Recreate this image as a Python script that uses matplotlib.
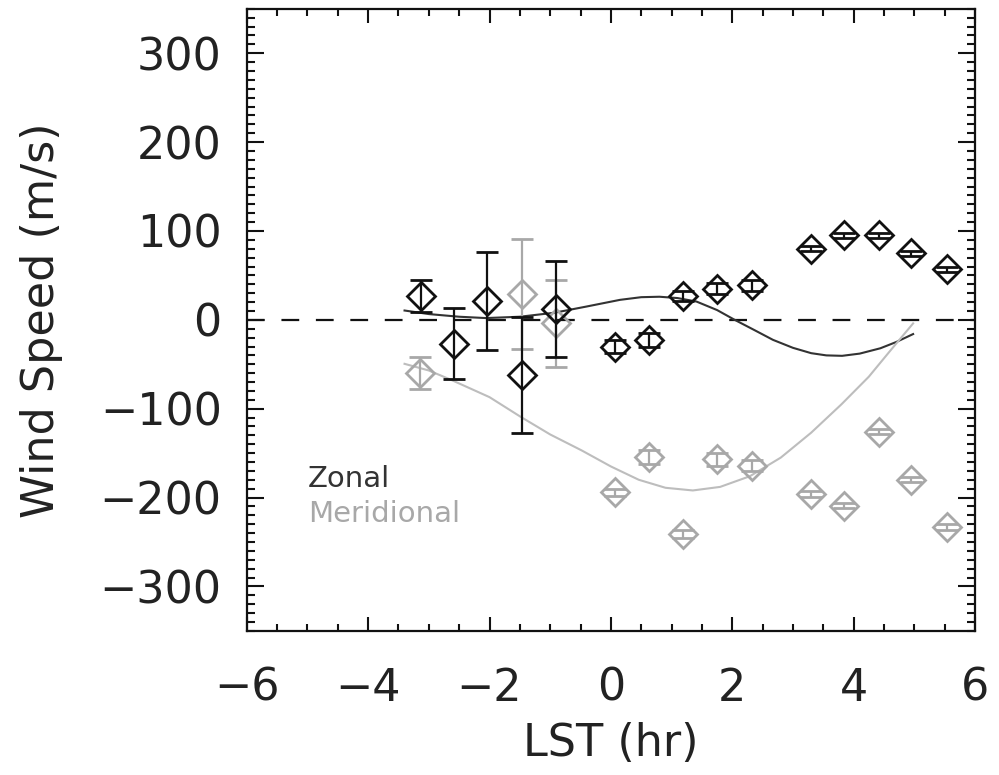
import matplotlib
matplotlib.use("Agg")
import matplotlib.pyplot as plt
from matplotlib.ticker import MultipleLocator, FuncFormatter

# ---- data ----
zonal_x = [-3.13, -2.59, -2.04, -1.47, -0.91, 0.07, 0.63, 1.18, 1.75, 2.32, 3.29, 3.84, 4.42, 4.95, 5.53]
zonal_y = [27, -27, 21, -62, 12, -30, -23, 27, 35, 39, 80, 95, 95, 75, 57]
zonal_err = [18, 40, 55, 65, 54, 7, 8, 6, 6, 6, 3, 3, 3, 3, 3]

merid_x = [-3.15, -1.47, -0.91, 0.07, 0.63, 1.18, 1.75, 2.32, 3.29, 3.84, 4.42, 4.95, 5.53]
merid_y = [-60, 29, -4, -194, -154, -241, -157, -164, -196, -209, -126, -180, -233]
merid_err = [18, 62, 49, 4, 8, 4, 7, 6, 3, 3, 3, 3, 3]

zfit_x = [-3.4, -3.0, -2.5, -2.06, -1.5, -0.93, -0.4, 0.15, 0.5, 0.8, 1.1, 1.41, 1.75, 2.04,
          2.35, 2.67, 3.0, 3.3, 3.55, 3.81, 4.1, 4.44, 4.7, 4.98]
zfit_y = [10.5, 6.5, 3.5, 2, 3.5, 8, 15, 22.5, 25.5, 26, 24.5, 20.6, 11, 0,
          -11, -22.5, -31.5, -37.5, -40, -40.5, -38, -32, -25, -16]

mfit_x = [-3.4, -3.0, -2.63, -2.0, -1.49, -1.0, -0.48, 0.0, 0.46, 0.9, 1.35, 1.8, 2.29,
          2.8, 3.3, 3.8, 4.25, 4.6, 4.98]
mfit_y = [-49.5, -57, -67.6, -87, -109, -129, -147, -165, -180, -189, -192, -188, -176,
          -155, -127, -95, -64, -35, -4]

xticks = [-6, -4, -2, 0, 2, 4, 6]
yticks = [-300, -200, -100, 0, 100, 200, 300]

BLACK = "#111111"
GRAY = "#a8a8a8"
LGRAY = "#bdbdbd"
TXT = "#222222"

plt.rcParams['font.family'] = ['DejaVu Sans']

fig = plt.figure(figsize=(9.99, 7.75), dpi=100)
ax = fig.add_axes([0.247, 0.186, 0.729, 0.8026])

ax.axhline(0, color=BLACK, lw=1.6, dashes=(8, 7.5), zorder=1)

ax.plot(zfit_x, zfit_y, color="#333333", lw=1.5, zorder=2)
ax.plot(mfit_x, mfit_y, color=LGRAY, lw=1.5, zorder=2)

ax.errorbar(merid_x, merid_y, yerr=merid_err, fmt='D', mfc='none', mec=GRAY, ecolor=GRAY,
            ms=14, mew=2.0, elinewidth=1.6, capsize=8, capthick=1.6, zorder=3)
ax.errorbar(zonal_x, zonal_y, yerr=zonal_err, fmt='D', mfc='none', mec=BLACK, ecolor=BLACK,
            ms=14, mew=2.0, elinewidth=1.6, capsize=8, capthick=1.6, zorder=4)

ax.set_xlim(-6, 6)
ax.set_ylim(-350, 350)
ax.set_xticks(xticks)
ax.set_yticks(yticks)
ax.xaxis.set_minor_locator(MultipleLocator(0.5))
ax.yaxis.set_minor_locator(MultipleLocator(10))

fmt = FuncFormatter(lambda v, p: ("\u2212" + str(abs(int(v)))) if v < 0 else str(int(v)))
ax.xaxis.set_major_formatter(fmt)
ax.yaxis.set_major_formatter(fmt)

for s in ax.spines.values():
    s.set_linewidth(1.6)
    s.set_color(BLACK)

ax.tick_params(which='both', direction='in', top=True, right=True, width=1.5, color=BLACK)
ax.tick_params(axis='x', which='major', length=10, pad=26, labelsize=32, labelcolor=TXT)
ax.tick_params(axis='x', which='minor', length=5)
ax.tick_params(axis='y', which='major', length=12, pad=18, labelsize=32, labelcolor=TXT)
ax.tick_params(axis='y', which='minor', length=6)

ax.set_xlabel("LST (hr)", fontsize=32, color=TXT)
ax.set_ylabel("Wind Speed (m/s)", fontsize=32, color=TXT)
ax.xaxis.set_label_coords(0.5, -0.146)
ax.yaxis.set_label_coords(-0.253, 0.5)

ax.text(-4.99, -188, "Zonal", fontsize=21, color="#333333", ha='left', va='baseline')
ax.text(-4.99, -227.5, "Meridional", fontsize=21, color=GRAY, ha='left', va='baseline')

fig.savefig("out.png", dpi=100)
